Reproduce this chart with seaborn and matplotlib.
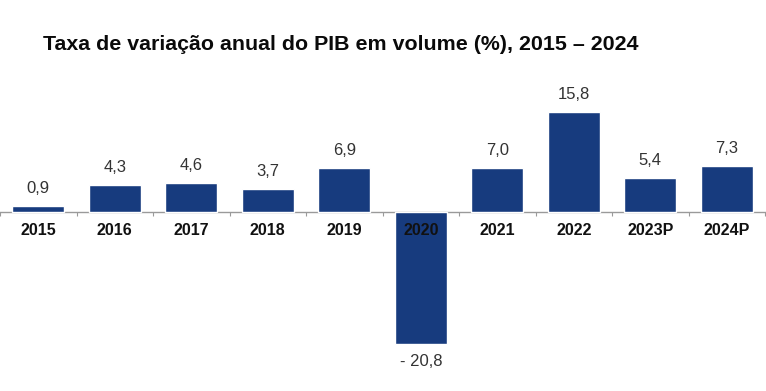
import matplotlib
matplotlib.use('Agg')
import matplotlib.pyplot as plt
import seaborn as sns
import pandas as pd
import numpy as np

# data
years = ['2015', '2016', '2017', '2018', '2019', '2020', '2021', '2022', '2023P', '2024P']
growth = [0.9, 4.3, 4.6, 3.7, 6.9, -20.8, 7.0, 15.8, 5.4, 7.3]
labels = ['0,9', '4,3', '4,6', '3,7', '6,9', '- 20,8', '7,0', '15,8', '5,4', '7,3']

sns.set_theme(style='white')
plt.rcParams['font.family'] = ['Liberation Sans', 'DejaVu Sans']

df = pd.DataFrame({'Ano': years, 'PIB': growth})

fig = plt.figure(figsize=(7.66, 3.91), dpi=100)
ax = fig.add_axes([0, 0, 1, (391 - 60) / 391])
sns.barplot(data=df, x='Ano', y='PIB', color='#173b7e', saturation=1, width=0.675, ax=ax)

ax.set_xlim(-33.5 / 77, (766 - 33.5) / 77)
ax.set_ylim((212 - 391) / 6.33, (212 - 60) / 6.33)

# value labels
for i, (v, lab) in enumerate(zip(growth, labels)):
    off = 12.5 if v >= 0 else -12.5
    ax.annotate(lab, (i, v), xytext=(0, off), textcoords='offset points',
                ha='center', va='center', fontsize=12, color='#333333')

for s in ['top', 'right', 'left']:
    ax.spines[s].set_visible(False)
ax.spines['bottom'].set_position(('data', 0))
ax.spines['bottom'].set_color('#9a9a9a')
ax.spines['bottom'].set_linewidth(1.0)
ax.spines['bottom'].set_zorder(0.5)
ax.set_yticks([])
ax.set_xlabel('')
ax.set_ylabel('')
ax.set_xticks(np.arange(len(years)))
ax.set_xticklabels(years, fontsize=11.5, fontweight='bold', color='#111111')
ax.tick_params(axis='x', which='major', length=3, width=0.8, color='#b0b0b0', pad=5)
ax.set_xticks(np.arange(len(years) + 1) - 0.5, minor=True)
ax.tick_params(axis='x', which='minor', length=3, width=0.8, color='#9a9a9a', bottom=True)
ax.xaxis.set_zorder(3)

fig.text(43 / 766, 1 - 45 / 391, 'Taxa de variação anual do PIB em volume (%), 2015 – 2024',
         fontsize=15.4, fontweight='bold', color='#0a0a0a', ha='left', va='center')

fig.savefig('out.png', dpi=100)
